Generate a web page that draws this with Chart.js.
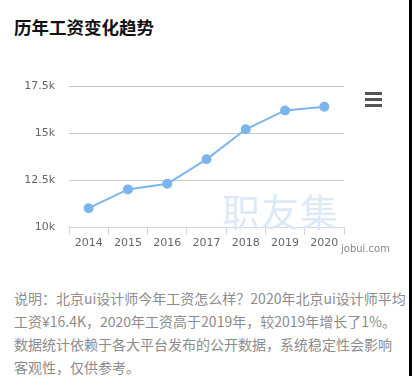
<!DOCTYPE html>
<html>
<head>
<meta charset="utf-8">
<script src="https://cdn.jsdelivr.net/npm/chart.js@4/dist/chart.umd.min.js"></script>
<style>
    body { margin: 0; background: #fff; width: 412px; height: 376px; overflow: hidden; position: relative; font-family: "Noto Sans CJK SC", sans-serif; }
    .title { position: absolute; left: 14px; top: 14px; font-size: 17.5px; font-weight: bold; color: #111; }
    .chartBox { position: absolute; left: 0; top: 0; width: 412px; height: 260px; }
    .watermark { position: absolute; left: 222px; top: 182px; font-size: 38px; color: #dde9f6; letter-spacing: 1px; }
    .site { position: absolute; left: 341px; top: 243px; font-size: 10px; color: #888; font-family: "DejaVu Sans", sans-serif; }
    .menu { position: absolute; left: 365px; top: 92px; width: 17px; }
    .menu div { height: 3px; background: #555; margin-bottom: 3px; }
    .desc { position: absolute; left: 14px; top: 287px; font-size: 14px; line-height: 23px; color: #8c8c8c; white-space: nowrap; }
    .edge { position: absolute; left: 409px; top: 0; width: 3px; height: 376px; background: #000; }
</style>
</head>
<body>
<div class="title">历年工资变化趋势</div>
<div class="chartBox"><canvas id="salaryChart"></canvas></div>
<div class="watermark">职友集</div>
<div class="site">jobui.com</div>
<div class="menu"><div></div><div></div><div></div></div>
<div class="desc">说明：北京ui设计师今年工资怎么样？2020年北京ui设计师平均<br>工资¥16.4K，2020年工资高于2019年，较2019年增长了1%。<br>数据统计依赖于各大平台发布的公开数据，系统稳定性会影响<br>客观性，仅供参考。</div>
<div class="edge"></div>

<script>
// Salary trend data (k)
const years = ['2014', '2015', '2016', '2017', '2018', '2019', '2020'];
const salaries = [11000, 12000, 12300, 13600, 15200, 16200, 16400];

const ctx = document.getElementById('salaryChart').getContext('2d');
new Chart(ctx, {
    type: 'line',
    data: {
        labels: years,
        datasets: [{
            data: salaries,
            borderColor: '#7cb5ec',
            backgroundColor: '#7cb5ec',
            borderWidth: 2,
            pointRadius: 4,
            pointHoverRadius: 4,
            tension: 0
        }]
    },
    options: {
        responsive: true,
        maintainAspectRatio: false,
        animation: false,
        layout: { padding: { top: 86, right: 68, left: 0, bottom: 0 } },
        plugins: { legend: { display: false }, tooltip: { enabled: false } },
        scales: {
            x: {
                offset: true,
                grid: { offset: true, drawOnChartArea: false, tickLength: 8, color: '#ccd6eb' },
                border: { color: '#ccd6eb' },
                ticks: { color: '#666', font: { family: 'DejaVu Sans', size: 11 }, padding: 2 },
                afterFit: function(scale) { scale.height = 33; }
            },
            y: {
                min: 10000,
                max: 17500,
                grid: { color: '#c8c8c8', drawTicks: false },
                border: { display: false },
                ticks: {
                    stepSize: 2500,
                    color: '#666',
                    padding: 14,
                    font: { family: 'DejaVu Sans', size: 11 },
                    callback: function(v) { return (v / 1000) + 'k'; }
                },
                afterFit: function(scale) { scale.width = 69; }
            }
        }
    }
});
</script>
</body>
</html>
